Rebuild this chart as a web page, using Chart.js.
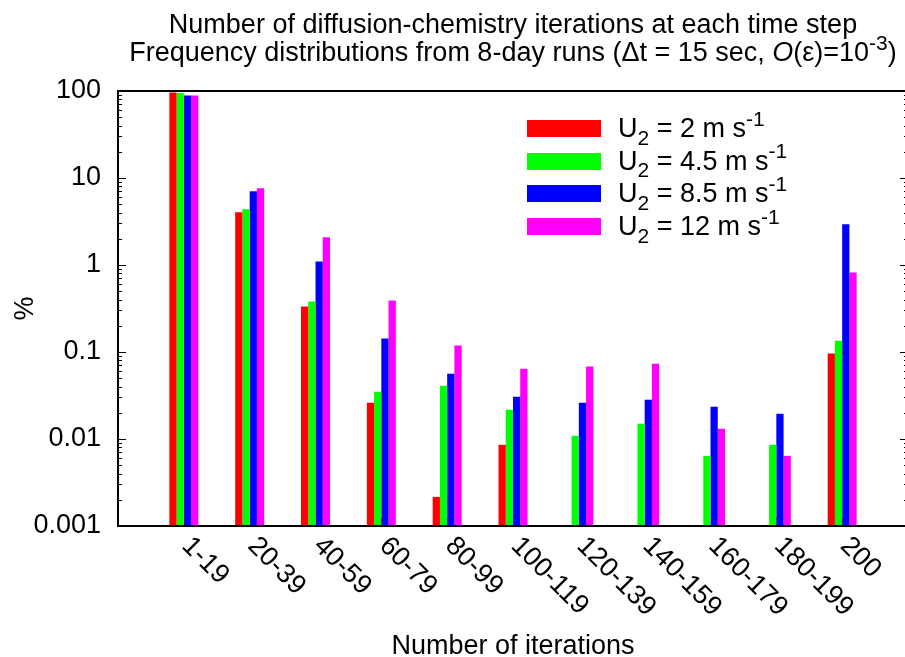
<!DOCTYPE html>
<html>
<head>
<meta charset="utf-8">
<script src="https://cdn.jsdelivr.net/npm/chart.js@4.4.0/dist/chart.umd.min.js"></script>
<style>
  html, body { margin: 0; padding: 0; background: #fff; overflow: hidden; }
  #wrap { width: 915px; height: 657px; }
</style>
</head>
<body>
<div id="wrap"><canvas id="iterChart" width="915" height="657"></canvas></div>
<script>
// iteration-count bins
const categories = ['1-19', '20-39', '40-59', '60-79', '80-99', '100-119',
                    '120-139', '140-159', '160-179', '180-199', '200'];
// wind speed of each run, m/s
const windSpeeds = ['2', '4.5', '8.5', '12'];
// frequency (%) per bin, one array per run (null = no occurrences)
const pctU2   = [96,   4.04, 0.333, 0.0261, 0.00216, 0.00857, null,   null,   null,   null,    0.096];
const pctU4_5 = [95,   4.37, 0.381, 0.035,  0.041,   0.0217,  0.0109, 0.015,  0.0064, 0.00857, 0.135];
const pctU8_5 = [88.5, 7.05, 1.10,  0.1426, 0.0564,  0.0306,  0.0261, 0.0283, 0.0235, 0.0195,  2.94];
const pctU12  = [88.6, 7.64, 2.08,  0.391,  0.1186,  0.0644,  0.068,  0.0734, 0.0131, 0.0064,  0.822];
const yTicks = [0.001, 0.01, 0.1, 1, 10, 100];
const yTickLabels = ['0.001', '0.01', '0.1', '1', '10', '100'];
const barColors = ['#ff0000', '#00ff00', '#0000ff', '#ff00ff'];

const FONT = '"Liberation Sans", Arial, Helvetica, sans-serif';
const FS = 27;

// font string for one piece of rich text
function fontFor(p, size) {
  const s = (p.sub || p.sup) ? Math.round(size * 0.78) : size;
  return (p.italic ? 'italic ' : '') + s + 'px ' + FONT;
}
// draw a run of text pieces with sub/superscripts
function drawRich(ctx, parts, x, y, size, align) {
  const widths = parts.map(p => { ctx.font = fontFor(p, size); return ctx.measureText(p.t).width; });
  const total = widths.reduce((a, b) => a + b, 0);
  let cx = align === 'center' ? x - total / 2 : x;
  ctx.textAlign = 'left';
  ctx.textBaseline = 'alphabetic';
  parts.forEach((p, i) => {
    ctx.font = fontFor(p, size);
    const dy = p.sub ? size * 0.28 : p.sup ? -size * 0.42 : 0;
    ctx.fillText(p.t, cx, y + dy);
    cx += widths[i];
  });
}

// frame, inward ticks, rotated category labels, titles and legend
const decorations = {
  id: 'decorations',
  beforeDatasetsDraw(chart) {
    const { ctx, chartArea: a, scales: { x } } = chart;
    ctx.save();
    ctx.strokeStyle = '#000';
    ctx.lineWidth = 1;
    categories.forEach((c, i) => {
      const px = Math.round(x.getPixelForValue(i + 1)) + 0.5;
      ctx.beginPath();
      ctx.moveTo(px, a.bottom);
      ctx.lineTo(px, a.bottom - 8);
      ctx.stroke();
    });
    ctx.restore();
  },
  afterDatasetsDraw(chart) {
    const { ctx, chartArea: a, scales: { y } } = chart;
    ctx.save();
    ctx.strokeStyle = '#000';
    ctx.lineWidth = 1;
    for (let d = -3; d <= 2; d++) {
      for (let m = 1; m <= 9; m++) {
        const v = m * Math.pow(10, d);
        if (v > 100) break;
        const py = Math.round(y.getPixelForValue(v)) + 0.5;
        const len = m === 1 ? 8 : 4;
        ctx.beginPath();
        ctx.moveTo(a.left, py); ctx.lineTo(a.left + len, py);
        ctx.moveTo(a.right, py); ctx.lineTo(a.right - len, py);
        ctx.stroke();
      }
    }
    ctx.lineWidth = 2;
    ctx.strokeRect(a.left, a.top, a.right - a.left, a.bottom - a.top);
    ctx.restore();
  },
  afterDraw(chart) {
    const { ctx, chartArea: a, scales: { x } } = chart;
    const mid = (a.left + a.right) / 2;
    ctx.save();
    ctx.fillStyle = '#000';

    // category labels, slanted down to the right
    ctx.font = FS + 'px ' + FONT;
    categories.forEach((c, i) => {
      const px = x.getPixelForValue(i + 1);
      ctx.save();
      ctx.translate(px - 3, a.bottom + 21);
      ctx.rotate(Math.PI / 4);
      ctx.textAlign = 'left';
      ctx.textBaseline = 'alphabetic';
      ctx.fillText(c, 0, 0);
      ctx.restore();
    });

    // titles
    drawRich(ctx, [{ t: 'Number of diffusion-chemistry iterations at each time step' }], mid, 33, FS, 'center');
    drawRich(ctx, [
      { t: 'Frequency distributions from 8-day runs (\u0394t = 15 sec, ' },
      { t: 'O', italic: true },
      { t: '(\u03b5)=10' },
      { t: '-3', sup: true },
      { t: ')' }
    ], mid, 61, FS, 'center');
    drawRich(ctx, [{ t: 'Number of iterations' }], mid, 654, FS, 'center');

    // y axis title
    ctx.save();
    ctx.translate(33, (a.top + a.bottom) / 2);
    ctx.rotate(-Math.PI / 2);
    ctx.font = FS + 'px ' + FONT;
    ctx.textAlign = 'center';
    ctx.textBaseline = 'alphabetic';
    ctx.fillText('%', 0, 0);
    ctx.restore();

    // legend
    windSpeeds.forEach((w, i) => {
      const top = 120 + i * 32.7;
      ctx.fillStyle = barColors[i];
      ctx.fillRect(527, Math.round(top), 74, 17);
      ctx.fillStyle = '#000';
      drawRich(ctx, [
        { t: 'U' }, { t: '2', sub: true }, { t: ' = ' + w + ' m s' }, { t: '-1', sup: true }
      ], 618, top + 17, FS, 'left');
    });
    ctx.restore();
  }
};

const runs = [pctU2, pctU4_5, pctU8_5, pctU12];

new Chart(document.getElementById('iterChart').getContext('2d'), {
  type: 'bar',
  data: {
    labels: ['', ...categories, ''],
    datasets: runs.map((vals, i) => ({
      label: 'U2 = ' + windSpeeds[i] + ' m s-1',
      data: [null, ...vals, null],
      backgroundColor: barColors[i],
      borderWidth: 0,
      categoryPercentage: 0.44,
      barPercentage: 1.0
    }))
  },
  options: {
    responsive: false,
    animation: false,
    devicePixelRatio: 1,
    layout: { padding: { top: 91, right: 7, bottom: 0, left: 0 } },
    plugins: {
      legend: { display: false },
      title: { display: false },
      tooltip: { enabled: false }
    },
    scales: {
      x: {
        type: 'category',
        offset: false,
        grid: { display: false, drawTicks: false },
        border: { display: false },
        ticks: { display: false },
        afterFit: s => { s.height = 131; }
      },
      y: {
        type: 'logarithmic',
        min: 0.001,
        max: 100,
        afterBuildTicks: s => { s.ticks = yTicks.map(v => ({ value: v })); },
        grid: { display: false, drawTicks: false },
        border: { display: false },
        ticks: {
          padding: 17,
          color: '#000',
          font: { family: FONT, size: FS },
          callback: v => yTickLabels[yTicks.indexOf(v)]
        },
        afterFit: s => { s.width = 118; }
      }
    }
  },
  plugins: [decorations]
});
</script>
</body>
</html>
